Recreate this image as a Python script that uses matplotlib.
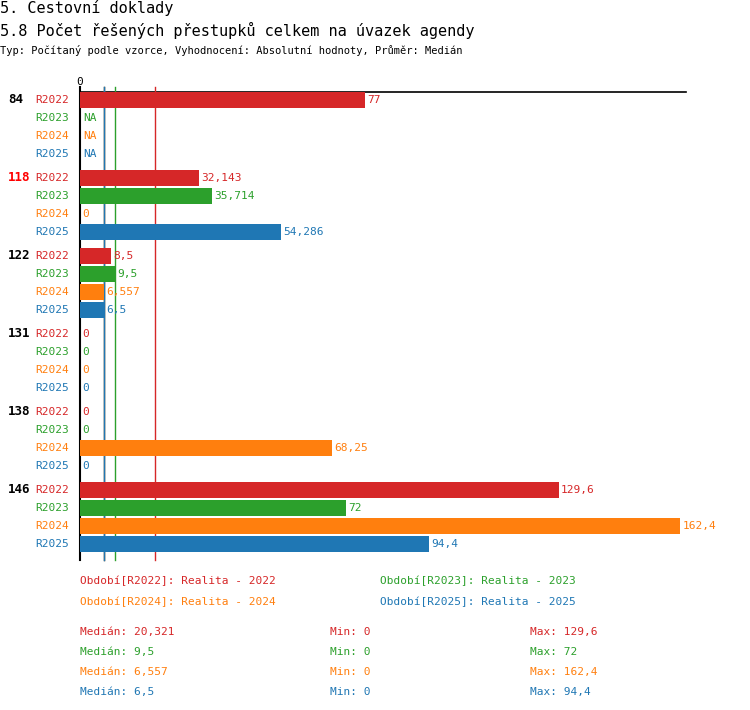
import matplotlib.pyplot as plt

plt.rcParams['font.family'] = ['DejaVu Sans Mono']

groups = ['84', '118', '122', '131', '138', '146']
group_colors = ['black', 'red', 'black', 'black', 'black', 'black']
periods = ['R2022', 'R2023', 'R2024', 'R2025']
colors = ['#d62728', '#2ca02c', '#ff7f0e', '#1f77b4']
values = {
    'R2022': [77, 32.143, 8.5, 0, 0, 129.6],
    'R2023': [None, 35.714, 9.5, 0, 0, 72],
    'R2024': [None, 0, 6.557, 0, 68.25, 162.4],
    'R2025': [None, 54.286, 6.5, 0, 0, 94.4],
}
medians = [20.321, 9.5, 6.557, 6.5]
mins = [0, 0, 0, 0]
maxs = [129.6, 72, 162.4, 94.4]
legend_names = ['Realita - 2022', 'Realita - 2023', 'Realita - 2024', 'Realita - 2025']


def fmt(v):
    return ('%g' % v).replace('.', ',')


W, H = 750, 710
fig = plt.figure(figsize=(W / 100, H / 100), dpi=100)
ax = fig.add_axes([80 / W, 1 - 560 / H, 606 / W, (560 - 92) / H])
ax.set_xlim(0, 164)
ax.set_ylim(560, 92)
ax.axis('off')
ax.plot([0, 164], [92, 92], color='black', lw=1.2, clip_on=False)
ax.plot([0, 0], [87, 560], color='black', lw=1.5, clip_on=False)

# median lines: draw in reverse order so blue/green sit on top
for m, c in reversed(list(zip(medians, colors))):
    ax.plot([m, m], [87, 560], color=c, lw=1, clip_on=False)
ax.plot([medians[3], medians[3]], [87, 560], color=colors[3], lw=1, clip_on=False)

for g, name in enumerate(groups):
    for r, p in enumerate(periods):
        y = 100 + 78 * g + 18 * r
        v = values[p][g]
        ax.text(-3, y, p, color=colors[r], fontsize=8, ha='right', va='center')
        if v is None:
            ax.text(1, y, 'NA', color=colors[r], fontsize=8, va='center')
            continue
        ax.barh(y, v, height=16, color=colors[r], zorder=3)
        ax.text(v + 0.6, y, fmt(v), color=colors[r], fontsize=8, va='center', zorder=4)
    ax.text(-72 * 164 / 606, 100 + 78 * g, name, color=group_colors[g], fontsize=9,
            fontweight='bold', ha='left', va='center')

ax.text(0, 87, '0', fontsize=8, ha='center', va='bottom')

fig.text(0 / W, 1 - 8 / H, '5. Cestovní doklady', fontsize=11, va='center')
fig.text(0 / W, 1 - 30 / H, '5.8 Počet řešených přestupků celkem na úvazek agendy', fontsize=11, va='center')
fig.text(0 / W, 1 - 50 / H, 'Typ: Počítaný podle vzorce, Vyhodnocení: Absolutní hodnoty, Průměr: Medián',
         fontsize=7.5, va='center')

leg_pos = [(80, 581), (380, 581), (80, 602), (380, 602)]
for (x, y), p, n, c in zip(leg_pos, periods, legend_names, colors):
    fig.text(x / W, 1 - y / H, 'Období[%s]: %s' % (p, n), color=c, fontsize=8, va='center')

for i, c in enumerate(colors):
    y = 1 - (632 + 20 * i) / H
    fig.text(80 / W, y, 'Medián: %s' % fmt(medians[i]), color=c, fontsize=8, va='center')
    fig.text(330 / W, y, 'Min: %s' % fmt(mins[i]), color=c, fontsize=8, va='center')
    fig.text(530 / W, y, 'Max: %s' % fmt(maxs[i]), color=c, fontsize=8, va='center')

fig.savefig('out.png', dpi=100)
